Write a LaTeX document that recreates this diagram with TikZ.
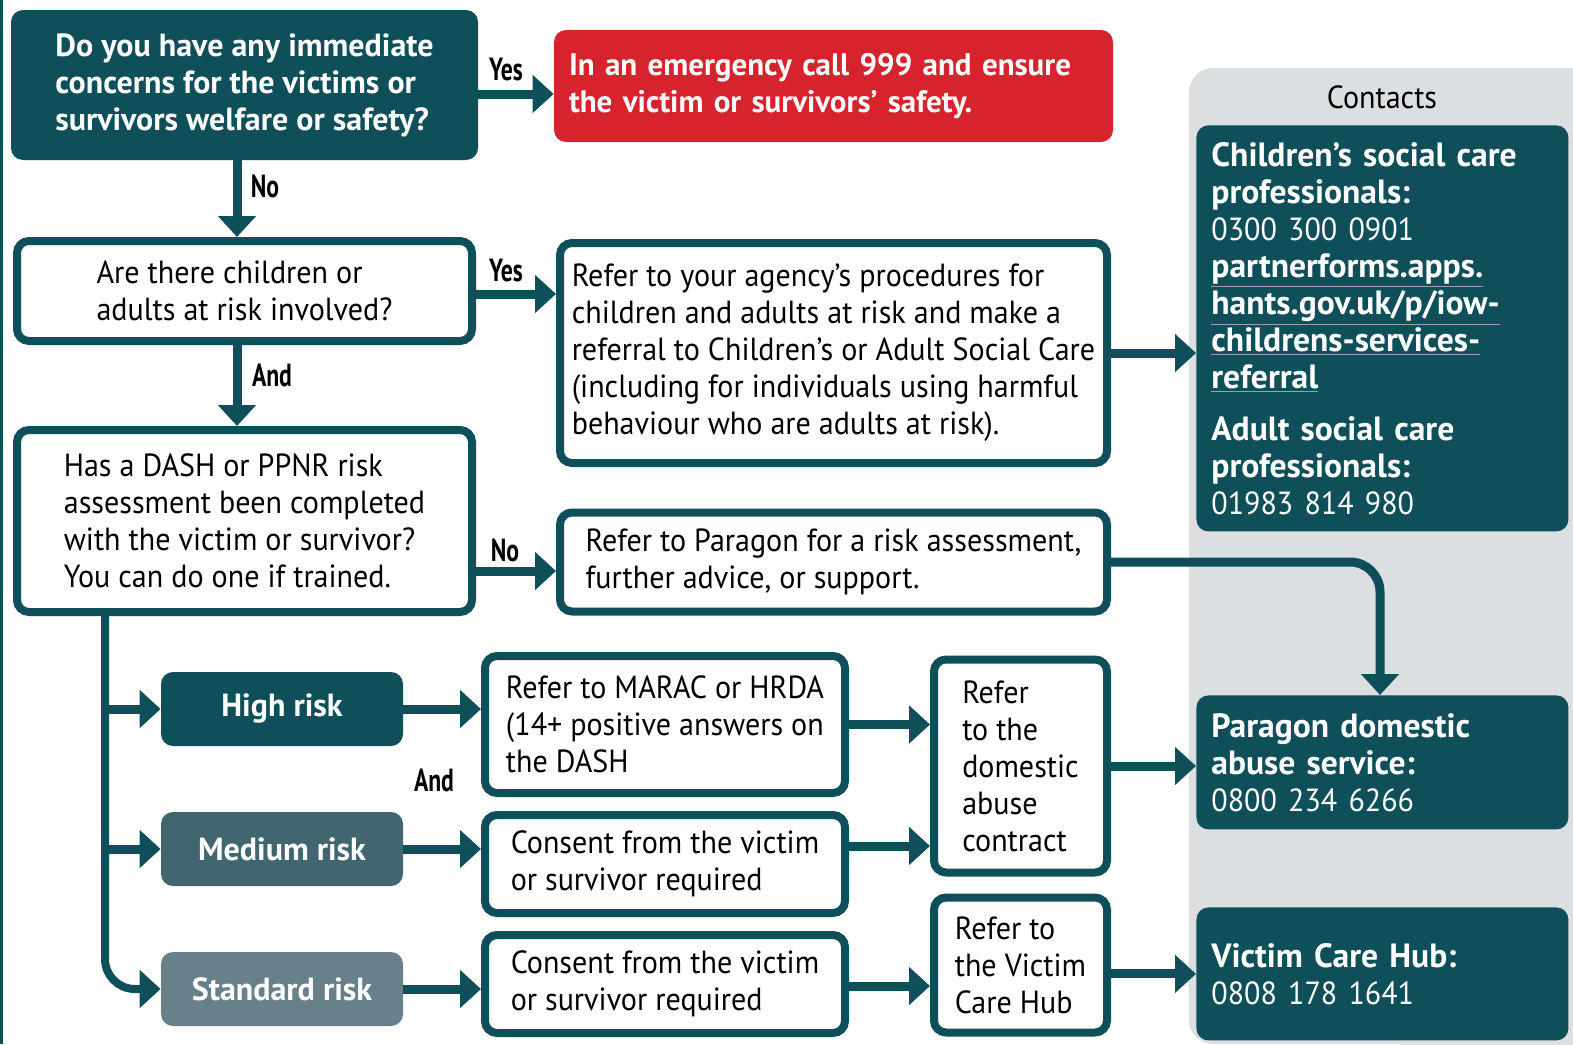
\documentclass[tikz,border=0pt]{standalone}
\usepackage{fontspec}
\setmainfont{PT Sans}[UprightFeatures={FakeStretch=0.94},BoldFeatures={FakeStretch=1.0}]
\newfontfamily\condfont{PT Sans}[FakeStretch=0.74]
\usetikzlibrary{arrows.meta}
\definecolor{dteal}{HTML}{0F4F59}
\definecolor{mteal}{HTML}{42666F}
\definecolor{steal}{HTML}{688089}
\definecolor{ered}{HTML}{D6232D}
\definecolor{pgray}{HTML}{DCDFE2}
\definecolor{ulc}{HTML}{8FA6AB}
\newcommand\lnk[1]{{\color{ulc}$\underline{\hbox{\color{white}#1}}$}}
\begin{document}
\begin{tikzpicture}[x=0.5pt,y=-0.5pt,
  txt/.style={font=\fontsize{16}{18.5}\selectfont},
  wbox/.style={draw=dteal, line width=4pt, fill=white, rounded corners=6pt, align=left, inner sep=0pt, text=black, txt},
  dbox/.style={fill=dteal, rounded corners=6pt, align=left, inner sep=0pt, text=white},
  rbox/.style={dbox, font=\fontsize{16}{18.5}\selectfont\bfseries, minimum width=121pt, minimum height=37pt, align=center},
  cbox/.style={dbox, anchor=north west, minimum width=186pt, text width=171pt, inner xsep=7.5pt, font=\fontsize{16.8}{18.5}\selectfont\bfseries},
  cnum/.style={},
  arr/.style={draw=dteal, line width=4.5pt, -{Triangle[width=18.5pt,length=10.5pt]}},
  lbl/.style={font=\fontsize{16}{16}\condfont\bfseries, inner sep=0pt, text=black}]
\useasboundingbox (0,0) rectangle (1573,1044);
\clip (0,0) rectangle (1573,1044);
\fill[white] (0,0) rectangle (1573,1044);
\fill[dteal] (0,0) rectangle (3,1044);
\fill[pgray, rounded corners=12pt] (1189,68) rectangle (1650,1044);
\fill[pgray] (1400,68) rectangle (1650,1100);
% left column
\node[dbox, minimum width=233.5pt, minimum height=75pt, font=\fontsize{16}{18.5}\selectfont\bfseries] (q1) at (244.5,85)
  {Do you have any immediate\\concerns for the victims or\\survivors welfare or safety?};
\node[dbox, fill=ered, minimum width=279.5pt, minimum height=56pt, text width=264.5pt, inner xsep=7.5pt, font=\fontsize{15.5}{18.5}\selectfont\bfseries] (red) at (833.5,86)
  {In an emergency call 999 and ensure\\the victim or survivors’ safety.};
\node[wbox, minimum width=227.5pt, minimum height=50pt] (q2) at (244.5,291)
  {Are there children or\\adults at risk involved?};
\node[wbox, minimum width=273.5pt, minimum height=110pt] (r1) at (833.5,353)
  {Refer to your agency’s procedures for\\children and adults at risk and make a\\referral to Children’s or Adult Social Care\\(including for individuals using harmful\\behaviour who are adults at risk).};
\node[wbox, minimum width=227.5pt, minimum height=91pt] (q3) at (244.5,521)
  {Has a DASH or PPNR risk\\assessment been completed\\with the victim or survivor?\\You can do one if trained.};
\node[wbox, minimum width=273.5pt, minimum height=49.5pt] (r2) at (833.5,562)
  {Refer to Paragon for a risk assessment,\\further advice, or support.};
% risk boxes
\node[rbox] (high) at (282,709) {High risk};
\node[rbox, fill=mteal] (med) at (282,849) {Medium risk};
\node[rbox, fill=steal] (std) at (282,989) {Standard risk};
\node[wbox, minimum width=180pt, minimum height=68.5pt] (marac) at (665,724.5)
  {Refer to MARAC or HRDA\\(14+ positive answers on\\the DASH};
\node[wbox, minimum width=180pt, minimum height=49pt] (cons1) at (665,864)
  {Consent from the victim\\or survivor required};
\node[wbox, minimum width=180pt, minimum height=49pt] (cons2) at (665,984)
  {Consent from the victim\\or survivor required};
\node[wbox, minimum width=86.5pt, minimum height=106.5pt] (dac) at (1020.5,766)
  {Refer\\to the\\domestic\\abuse\\contract};
\node[wbox, minimum width=86.5pt, minimum height=67.5pt] (vch) at (1020.5,965)
  {Refer to\\the Victim\\Care Hub};
% contacts
\node[txt] (ct) at (1382,97) {Contacts};
\node[cbox, minimum height=203pt] (c1) at (1196,125)
  {Children’s social care\\professionals:\\{\fontsize{16}{18.5}\mdseries 0300 300 0901}\\\lnk{partnerforms.apps.}\\\lnk{hants.gov.uk/p/iow-}\\\lnk{childrens-services-}\\\lnk{referral}\\[7.5pt]Adult social care\\professionals:\\{\fontsize{16}{18.5}\mdseries 01983 814 980}};
\node[cbox, minimum height=67pt] (c2) at (1196,695)
  {Paragon domestic\\abuse service:\\{\fontsize{16}{18.5}\mdseries 0800 234 6266}};
\node[cbox, minimum height=66.5pt] (c3) at (1196,907)
  {Victim Care Hub:\\{\fontsize{16}{18.5}\mdseries 0808 178 1641}};
% helper coordinates
\coordinate (vx) at (237,0);
\coordinate (tx) at (105,0);
\coordinate (px) at (1380,0);
\coordinate (y1) at (0,94);
\coordinate (y2) at (0,294);
\coordinate (y3) at (0,571);
\coordinate (y4) at (0,846);
\coordinate (y5) at (0,986);
% connectors
\draw[arr] (q1.south -| vx) -- (q2.north -| vx);
\draw[arr] (q2.south -| vx) -- (q3.north -| vx);
\draw[arr] (q1.east |- y1) -- (red.west |- y1);
\draw[arr] (q2.east |- y2) -- (r1.west |- y2);
\draw[arr] (q3.east |- y3) -- (r2.west |- y3);
\draw[arr, line width=4pt, rounded corners=15pt] (q3.south -| tx) |- (std.west);
\draw[arr] (high.west -| tx) -- (high.west);
\draw[arr] (med.west -| tx) -- (med.west);
\draw[arr] (high.east) -- (marac.west |- high.east);
\draw[arr] (med.east) -- (cons1.west |- med.east);
\draw[arr] (std.east) -- (cons2.west |- std.east);
\draw[arr] (marac.east) -- (dac.west |- marac.east);
\draw[arr] (cons1.east |- y4) -- (dac.west |- y4);
\draw[arr] (cons2.east |- y5) -- (vch.west |- y5);
\draw[arr] (r1.east) -- (c1.west |- r1.east);
\draw[arr] (dac.east) -- (c2.west |- dac.east);
\draw[arr] (vch.east |- c3.west) -- (c3.west);
\draw[arr, rounded corners=15pt] (r2.east) -| (c2.north -| px);
% labels
\node[lbl] (yes1) at (506,70) {Yes};
\node[lbl] (yes2) at (506,271) {Yes};
\node[lbl] (no1) at (265,186) {No};
\node[lbl] (and1) at (272,375) {And};
\node[lbl] (no2) at (505,550) {No};
\node[lbl] (and2) at (434,780) {And};
\end{tikzpicture}
\end{document}
